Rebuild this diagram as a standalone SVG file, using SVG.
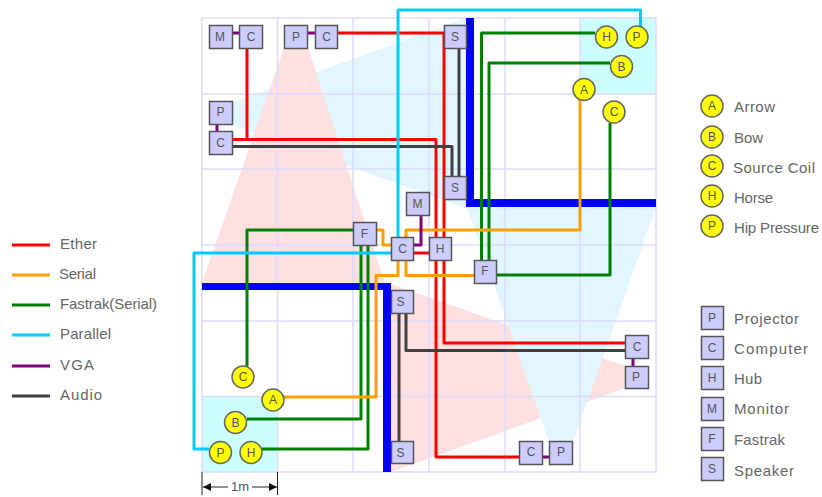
<svg xmlns="http://www.w3.org/2000/svg" width="822" height="497" viewBox="0 0 822 497">
<style>
text{font-family:"Liberation Sans",Arial,sans-serif;fill:#555}
.t{font-size:12px;text-anchor:middle;fill:#555}
.l{font-size:15px;fill:#666}
.n{fill:#ccf;stroke:#555;stroke-width:1.5}
.o{fill:#ff0;stroke:#666;stroke-width:1.5}
.g{fill:none;stroke:#dcdcff;stroke-width:1.5}
.w{fill:none;stroke-width:3;stroke-linejoin:round}
.e{stroke:#f00}.s{stroke:#ffa000}.f{stroke:#008000}.p{stroke:#0cf}.v{stroke:#800080}.a{stroke:#404040}
.wall{fill:#00f}
.pink{fill:#ffe0e0}.blue{fill:#e2f6ff}.zone{fill:#ccffff}
.d{stroke:#222;stroke-width:1;fill:none}
</style>
<defs>
<marker id="ah" markerUnits="userSpaceOnUse" markerWidth="9" markerHeight="8" refX="8" refY="4" orient="auto-start-reverse"><path d="M0 0L8 4L0 8Z" fill="#111"/></marker>
</defs>
<g id="floor">
<rect class="zone" x="580" y="18" width="76" height="76"/>
<rect class="zone" x="202" y="396.5" width="75.500" height="75.500"/>
<polygon class="blue" points="232,103 466,18 466,208 232,125"/>
<polygon class="pink" points="284,48 308,48 385,283 202,283"/>
<polygon class="pink" points="625,366 391,284 391,472 625,388"/>
<polygon class="blue" points="549,442 467,207 656,207 573,442"/>
<path class="g" d="M202 18H656V472H202ZM277.500 18V472M353 18V472M429 18V472M505 18V472M580 18V472M202 94H656M202 169H656M202 245H656M202 321H656M202 396.500H656"/>
<rect class="wall" x="466" y="18" width="8" height="189"/>
<rect class="wall" x="466" y="199" width="190" height="8"/>
<rect class="wall" x="202" y="283" width="189" height="7"/>
<rect class="wall" x="383" y="283" width="8" height="189"/>
</g>
<g id="connectors">
<path class="w e" d="M337 33H444V343H626"/>
<path class="w e" d="M247 48V139.500"/>
<path class="w e" d="M232 139.500H436V457H520"/>
<path class="w e" d="M413 253H429"/>
<path class="w a" d="M232 146.500H452V177"/>
<path class="w a" d="M459 48V177"/>
<path class="w a" d="M399 313V441"/>
<path class="w a" d="M406 313V350.500H626"/>
<path class="w f" d="M595 33H481.500V260"/>
<path class="w f" d="M610 63H489V260"/>
<path class="w f" d="M610 123V275H497"/>
<path class="w f" d="M353 230H247V366"/>
<path class="w f" d="M361 245V419H247"/>
<path class="w f" d="M368 245V449H262"/>
<path class="w s" d="M376 230H383V245H391"/>
<path class="w s" d="M406 238V230H580V100"/>
<path class="w s" d="M398 261V275.500H376V397H284"/>
<path class="w s" d="M406 261V275.500H474"/>
<path class="w p" d="M398 238V10H640.500V26"/>
<path class="w p" d="M391 253H194V449H209"/>
<path class="w v" d="M232 33H240"/>
<path class="w v" d="M307 33H315"/>
<path class="w v" d="M217 124V132"/>
<path class="w v" d="M421 215V245H413"/>
<path class="w v" d="M633 359V366"/>
<path class="w v" d="M542 457H550"/>
</g>
<g id="dimension">
<path class="d" d="M202 472V495M277.500 472V495"/>
<path class="d" d="M228 487H203" marker-end="url(#ah)"/>
<path class="d" d="M252 487H277" marker-end="url(#ah)"/>
<text x="240" y="491" style="font-size:13px;text-anchor:middle" textLength="18">1m</text>
</g>
<g id="n1"><rect class="n" x="209.500" y="25.500" width="23" height="23"/><text class="t" x="220" y="41">M</text></g>
<g id="n2"><rect class="n" x="239.500" y="25.500" width="23" height="23"/><text class="t" x="251" y="41">C</text></g>
<g id="n3"><rect class="n" x="284.500" y="25.500" width="23" height="23"/><text class="t" x="296" y="41">P</text></g>
<g id="n4"><rect class="n" x="315.500" y="25.500" width="22" height="23"/><text class="t" x="326.500" y="41">C</text></g>
<g id="n5"><rect class="n" x="209.500" y="101.500" width="23" height="23"/><text class="t" x="220.500" y="116">P</text></g>
<g id="n6"><rect class="n" x="209.500" y="131.500" width="23" height="23"/><text class="t" x="220.500" y="147">C</text></g>
<g id="n7"><rect class="n" x="444.500" y="25.500" width="22" height="23"/><text class="t" x="455" y="41">S</text></g>
<g id="n8"><rect class="n" x="444.500" y="176.500" width="22" height="23"/><text class="t" x="455" y="192">S</text></g>
<g id="n9"><rect class="n" x="406.500" y="192.500" width="23" height="23"/><text class="t" x="417.500" y="208">M</text></g>
<g id="n10"><rect class="n" x="353.500" y="222.500" width="23" height="23"/><text class="t" x="364.500" y="238">F</text></g>
<g id="n11"><rect class="n" x="391.500" y="237.500" width="22" height="23"/><text class="t" x="402.500" y="253">C</text></g>
<g id="n12"><rect class="n" x="429.500" y="237.500" width="22" height="23"/><text class="t" x="440" y="253">H</text></g>
<g id="n13"><rect class="n" x="474.500" y="260.500" width="22" height="23"/><text class="t" x="485" y="275">F</text></g>
<g id="n14"><rect class="n" x="391.500" y="290.500" width="22" height="23"/><text class="t" x="400.500" y="306">S</text></g>
<g id="n15"><rect class="n" x="625.500" y="335.500" width="23" height="23"/><text class="t" x="637" y="351">C</text></g>
<g id="n16"><rect class="n" x="625.500" y="366.500" width="23" height="22"/><text class="t" x="636" y="381">P</text></g>
<g id="n17"><rect class="n" x="391.500" y="441.500" width="22" height="22"/><text class="t" x="400.500" y="457">S</text></g>
<g id="n18"><rect class="n" x="519.500" y="441.500" width="23" height="23"/><text class="t" x="531" y="456">C</text></g>
<g id="n19"><rect class="n" x="549.500" y="441.500" width="23" height="23"/><text class="t" x="561" y="456">P</text></g>
<g id="s1"><circle class="o" cx="606.500" cy="37" r="11"/><text class="t" x="606.500" y="41">H</text></g>
<g id="s2"><circle class="o" cx="637" cy="37" r="11"/><text class="t" x="636.500" y="41">P</text></g>
<g id="s3"><circle class="o" cx="621.500" cy="66.500" r="11"/><text class="t" x="621.500" y="71">B</text></g>
<g id="s4"><circle class="o" cx="584" cy="89.500" r="11"/><text class="t" x="584" y="94">A</text></g>
<g id="s5"><circle class="o" cx="614" cy="112" r="11"/><text class="t" x="614" y="116">C</text></g>
<g id="s6"><circle class="o" cx="243" cy="377" r="11"/><text class="t" x="243" y="381">C</text></g>
<g id="s7"><circle class="o" cx="273" cy="400" r="11"/><text class="t" x="273" y="404">A</text></g>
<g id="s8"><circle class="o" cx="235.500" cy="422.500" r="11"/><text class="t" x="235.500" y="427">B</text></g>
<g id="s9"><circle class="o" cx="220.500" cy="452.500" r="11"/><text class="t" x="220.500" y="457">P</text></g>
<g id="s10"><circle class="o" cx="251" cy="452.500" r="11"/><text class="t" x="251" y="457">H</text></g>
<g id="legend-wires">
<path class="w e" d="M12 245H50"/><text class="l" x="60" y="249" textLength="37">Ether</text>
<path class="w s" d="M12 275H50"/><text class="l" x="59" y="279" textLength="37">Serial</text>
<path class="w f" d="M12 305H50"/><text class="l" x="60" y="309" textLength="97">Fastrak(Serial)</text>
<path class="w p" d="M12 335H50"/><text class="l" x="60" y="339" textLength="51">Parallel</text>
<path class="w v" d="M12 366H50"/><text class="l" x="60" y="370" textLength="34">VGA</text>
<path class="w a" d="M12 396H50"/><text class="l" x="60" y="400" textLength="42">Audio</text>
</g>
<g id="legend-sensors">
<circle class="o" cx="712" cy="106" r="11"/><text class="t" x="712" y="110">A</text><text class="l" x="734" y="112" textLength="41">Arrow</text>
<circle class="o" cx="712" cy="137" r="11"/><text class="t" x="712" y="141">B</text><text class="l" x="734" y="143" textLength="29">Bow</text>
<circle class="o" cx="712" cy="166" r="11"/><text class="t" x="712" y="170">C</text><text class="l" x="733" y="173" textLength="82">Source Coil</text>
<circle class="o" cx="712" cy="196" r="11"/><text class="t" x="712" y="200">H</text><text class="l" x="734" y="203" textLength="39">Horse</text>
<circle class="o" cx="712" cy="226" r="11"/><text class="t" x="712" y="230">P</text><text class="l" x="734" y="233" textLength="85">Hip Pressure</text>
</g>
<g id="legend-nodes">
<rect class="n" x="701.500" y="306.500" width="22" height="23"/><text class="t" x="712" y="322">P</text><text class="l" x="734" y="324" textLength="65">Projector</text>
<rect class="n" x="701.500" y="336.500" width="22" height="23"/><text class="t" x="712" y="352">C</text><text class="l" x="734" y="354" textLength="74">Computer</text>
<rect class="n" x="701.500" y="366.500" width="22" height="23"/><text class="t" x="712" y="382">H</text><text class="l" x="734" y="384" textLength="28">Hub</text>
<rect class="n" x="701.500" y="397.500" width="22" height="23"/><text class="t" x="712" y="413">M</text><text class="l" x="734" y="414" textLength="55">Monitor</text>
<rect class="n" x="701.500" y="427.500" width="22" height="23"/><text class="t" x="712" y="443">F</text><text class="l" x="734" y="445" textLength="51">Fastrak</text>
<rect class="n" x="701.500" y="457.500" width="22" height="23"/><text class="t" x="712" y="473">S</text><text class="l" x="734" y="476" textLength="60">Speaker</text>
</g>
</svg>
